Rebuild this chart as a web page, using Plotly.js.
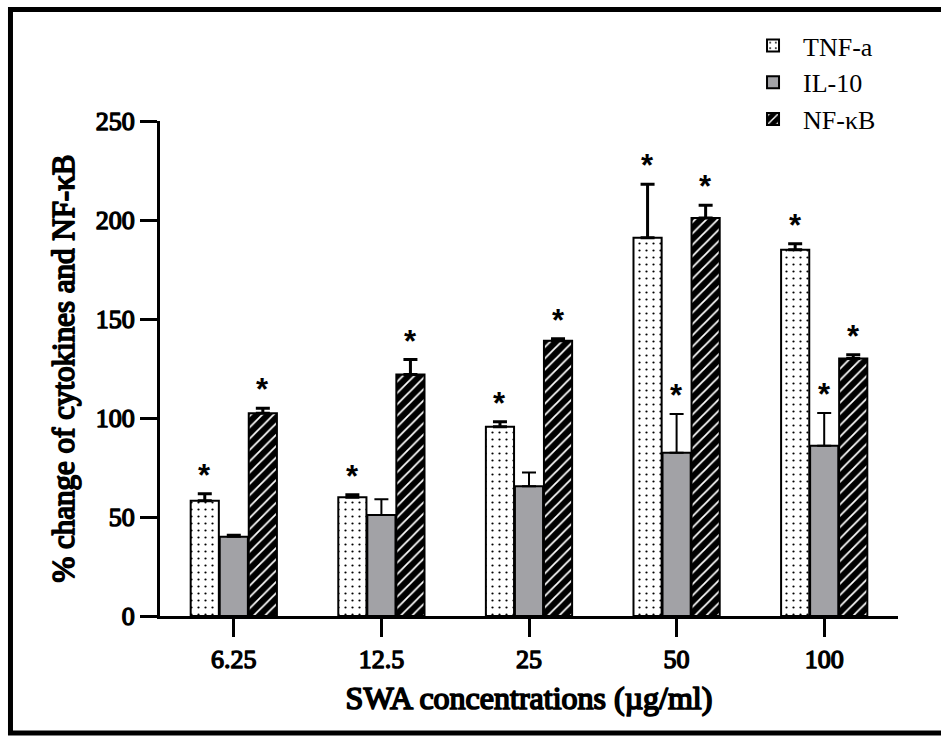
<!DOCTYPE html>
<html>
<head>
<meta charset="utf-8">
<script src="https://cdn.plot.ly/plotly-3.0.1.min.js"></script>
<style>
html,body{margin:0;padding:0;background:#fff;}#chart{width:941px;height:736px;}
/* the serif family has no bold face installed: thicken the strokes of the axis texts */
#chart .xtick text, #chart .ytick text { stroke:#000; stroke-width:1.4px; stroke-linejoin:round; }
#chart text.xtitle, #chart text.ytitle { stroke:#000; stroke-width:1.7px; stroke-linejoin:round; }
</style>
</head>
<body>
<div id="chart"></div>
<script>
// ---- data ----
const concentrations = ['6.25', '12.5', '25', '50', '100'];
const seriesNames = ['TNF-a', 'IL-10', 'NF-κB'];
const tnfValues = [58.2, 60.0, 95.6, 191.0, 185.0];
const tnfErrors = [3.5, 1.3, 2.5, 27.0, 3.0];
const il10Values = [40.0, 51.0, 65.5, 82.5, 86.0];
const il10Errors = [1.0, 8.0, 7.0, 19.5, 16.5];
const nfkbValues = [102.4, 122.0, 139.0, 201.0, 130.0];
const nfkbErrors = [2.5, 7.5, 1.0, 6.5, 2.0];
const tnfSignificant = [true, true, true, true, true];
const il10Significant = [false, false, false, true, true];
const nfkbSignificant = [true, true, true, true, true];
const yTickValues = [0, 50, 100, 150, 200, 250];

// ---- layout constants ----
const BARGAP = 0.41;
const BARGROUPGAP = 0.03;
const SLOT = (1 - BARGAP) / 3;
const serif = 'Liberation Serif';

function barTrace(name, values, errors, pattern, color, errThick) {
  return {
    type: 'bar',
    name: name,
    x: concentrations,
    y: values,
    marker: Object.assign({color: color, line: {color: '#000', width: 2}}, pattern ? {pattern: pattern} : {}),
    error_y: {type: 'data', symmetric: false, array: errors, arrayminus: errors.map(() => 0),
              color: '#000', thickness: errThick, width: 7},
    hoverinfo: 'x+y'
  };
}

const traces = [
  barTrace(seriesNames[0], tnfValues, tnfErrors,
    {shape: '.', fgcolor: '#000', bgcolor: '#fff', size: 7, solidity: 0.08, fillmode: 'replace'}, '#fff', 3),
  barTrace(seriesNames[1], il10Values, il10Errors, null, '#a2a2a6', 2),
  barTrace(seriesNames[2], nfkbValues, nfkbErrors,
    {shape: '/', fgcolor: '#fff', bgcolor: '#000', size: 8, solidity: 0.22, fillmode: 'replace'}, '#000', 3)
];

// significance asterisks above the error bars
const annotations = [];
const allSeries = [
  [tnfValues, tnfErrors, tnfSignificant],
  [il10Values, il10Errors, il10Significant],
  [nfkbValues, nfkbErrors, nfkbSignificant]
];
allSeries.forEach(function (s, k) {
  s[0].forEach(function (v, i) {
    if (!s[2][i]) return;
    annotations.push({
      x: i + (k - 1) * SLOT, y: v + s[1][i], xref: 'x', yref: 'y',
      text: '*', showarrow: false, yanchor: 'bottom', xanchor: 'center', yshift: -1,
      font: {family: 'Liberation Sans', size: 31, color: '#000', weight: 'bold'}
    });
  });
});

const layout = {
  width: 941, height: 736,
  margin: {l: 160, r: 43, t: 121, b: 120},
  paper_bgcolor: '#fff', plot_bgcolor: '#fff',
  barmode: 'group', bargap: BARGAP, bargroupgap: BARGROUPGAP,
  showlegend: true,
  legend: {x: 0.79, xanchor: 'left', y: 1.2, yanchor: 'top', itemwidth: 50,
           font: {family: serif, size: 26, color: '#000'}, bgcolor: 'rgba(0,0,0,0)'},
  font: {family: serif, color: '#000'},
  xaxis: {
    type: 'category', range: [-0.5, 4.5],
    showline: true, linecolor: '#000', linewidth: 3,
    ticks: 'outside', ticklen: 18, tickwidth: 3, tickcolor: '#000',
    showgrid: false, zeroline: false,
    tickfont: {family: serif, size: 26, color: '#000'},
    title: {text: 'SWA concentrations (µg/ml)', standoff: 14,
            font: {family: serif, size: 32, color: '#000'}}
  },
  yaxis: {
    range: [0, 250], tickvals: yTickValues, ticktext: yTickValues.map(String),
    showline: true, linecolor: '#000', linewidth: 3,
    ticks: 'outside', ticklen: 17, tickwidth: 3, tickcolor: '#000',
    showgrid: false, zeroline: false,
    tickfont: {family: serif, size: 26, color: '#000'},
    title: {text: '% change of cytokines and NF-κB', standoff: 12,
            font: {family: serif, size: 31, color: '#000'}}
  },
  annotations: annotations,
  shapes: [{
    type: 'rect', xref: 'paper', yref: 'paper',
    x0: -0.2026, x1: 1.25, y0: -0.2364, y1: 1.2253,
    line: {color: '#000', width: 5}, fillcolor: 'rgba(0,0,0,0)', layer: 'below'
  }]
};

Plotly.newPlot('chart', traces, layout, {displayModeBar: false, staticPlot: true});
</script>
</body>
</html>
